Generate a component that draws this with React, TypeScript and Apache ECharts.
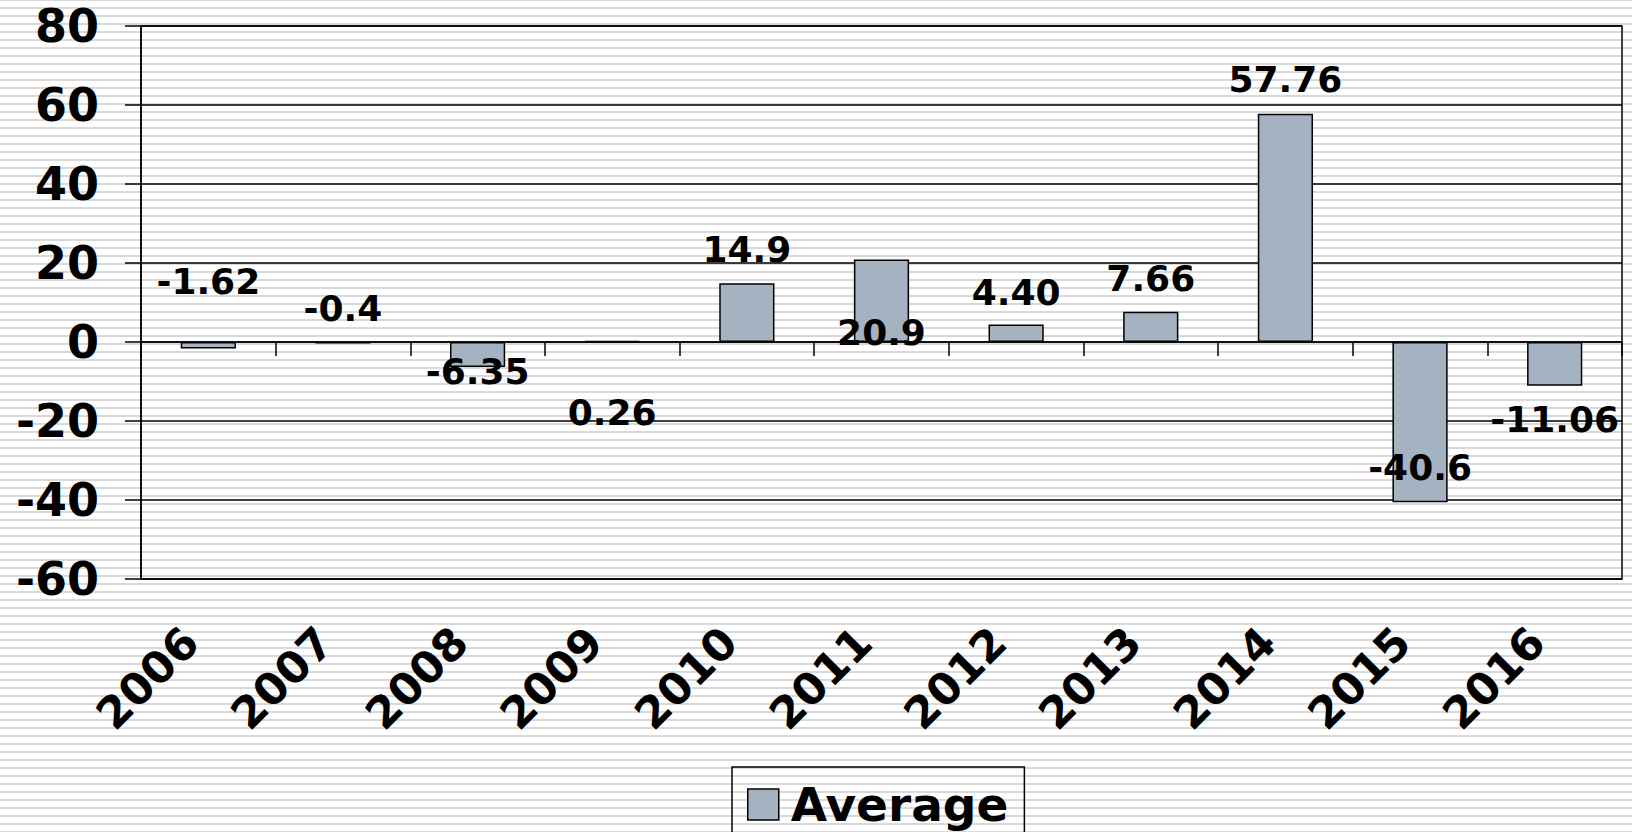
import React, { useEffect, useRef } from "react";
import * as echarts from "echarts";

const years = ["2006", "2007", "2008", "2009", "2010", "2011", "2012", "2013", "2014", "2015", "2016"];
const averages = [-1.62, -0.4, -6.35, 0.26, 14.9, 20.9, 4.4, 7.66, 57.76, -40.6, -11.06];
const valueLabels = ["-1.62", "-0.4", "-6.35", "0.26", "14.9", "20.9", "4.40", "7.66", "57.76", "-40.6", "-11.06"];
const yTicks = { min: -60, max: 80, interval: 20 };
const seriesName = "Average";

// label nudges (pixels, relative to bar centre) to mimic the hand-placed labels
const labelNudge = [-64, -34, 17, 71, -63, 32, -41, -48, -148, 45, 56];

const FONT = "DejaVu Sans";

export default function App() {
  const ref = useRef<HTMLDivElement>(null);
  useEffect(() => {
    document.body.style.margin = "0";
    const chart = echarts.init(ref.current!, null, { renderer: "svg" });
    chart.setOption({
      animation: false,
      backgroundColor: "transparent",
      grid: {
        left: 141,
        right: 10,
        top: 26,
        bottom: 253,
        show: true,
        borderColor: "#000",
        borderWidth: 1.5,
        backgroundColor: "transparent",
      },
      legend: {
        data: [seriesName],
        icon: "rect",
        left: 732,
        top: 767,
        orient: "horizontal",
        borderColor: "#000",
        borderWidth: 1.5,
        padding: [14, 16, 22, 15],
        itemWidth: 31,
        itemHeight: 31,
        itemGap: 0,
        textStyle: {
          fontFamily: FONT,
          fontWeight: "bold",
          fontSize: 47,
          color: "#000",
          lineHeight: 47,
          padding: [0, 0, 0, 7],
        },
        itemStyle: { borderColor: "#000", borderWidth: 1.5 },
      },
      xAxis: [
        {
          type: "category",
          data: years,
          position: "bottom",
          axisLine: { show: false, onZero: false },
          axisTick: { show: false },
          axisLabel: {
            rotate: 45,
            margin: 38,
            padding: [0, 25, 0, 0],
            fontFamily: FONT,
            fontWeight: "bold",
            fontSize: 44,
            color: "#000",
            interval: 0,
          },
          splitLine: { show: false },
        },
        {
          type: "category",
          data: years,
          position: "top",
          axisLine: { show: true, onZero: true, lineStyle: { color: "#000", width: 1.5 } },
          axisTick: { show: true, inside: true, length: 14, lineStyle: { color: "#000", width: 1.5 } },
          axisLabel: { show: false },
          splitLine: { show: false },
        },
      ],
      yAxis: {
        type: "value",
        min: yTicks.min,
        max: yTicks.max,
        interval: yTicks.interval,
        axisLine: { show: true, lineStyle: { color: "#000", width: 1.5 } },
        axisTick: { show: true, length: 16, lineStyle: { color: "#000", width: 1.5 } },
        axisLabel: {
          margin: 42,
          fontFamily: FONT,
          fontWeight: "bold",
          fontSize: 46,
          color: "#000",
        },
        splitLine: { show: true, lineStyle: { color: "#000", width: 1.5 } },
      },
      series: [
        {
          name: seriesName,
          type: "bar",
          xAxisIndex: 0,
          barWidth: "41%",
          itemStyle: { color: "#a4b2c2", borderColor: "#000", borderWidth: 1.5 },
          label: {
            show: true,
            position: "inside",
            fontFamily: FONT,
            fontWeight: "bold",
            fontSize: 36,
            color: "#000",
            align: "center",
            verticalAlign: "middle",
          },
          data: averages.map((v, i) => ({
            value: v,
            label: { offset: [0, labelNudge[i]], formatter: valueLabels[i] },
          })),
        },
      ],
    });
    return () => chart.dispose();
  }, []);
  return (
    <div
      ref={ref}
      style={{
        position: "absolute",
        left: 0,
        top: 0,
        width: 1632,
        height: 832,
        backgroundColor: "#fff",
        backgroundImage:
          "repeating-linear-gradient(to bottom, #d9d9d9 0px, #d9d9d9 1.3px, #ffffff 1.3px, #ffffff 7.3px, #d9d9d9 7.3px, #d9d9d9 8px)",
      }}
    />
  );
}
